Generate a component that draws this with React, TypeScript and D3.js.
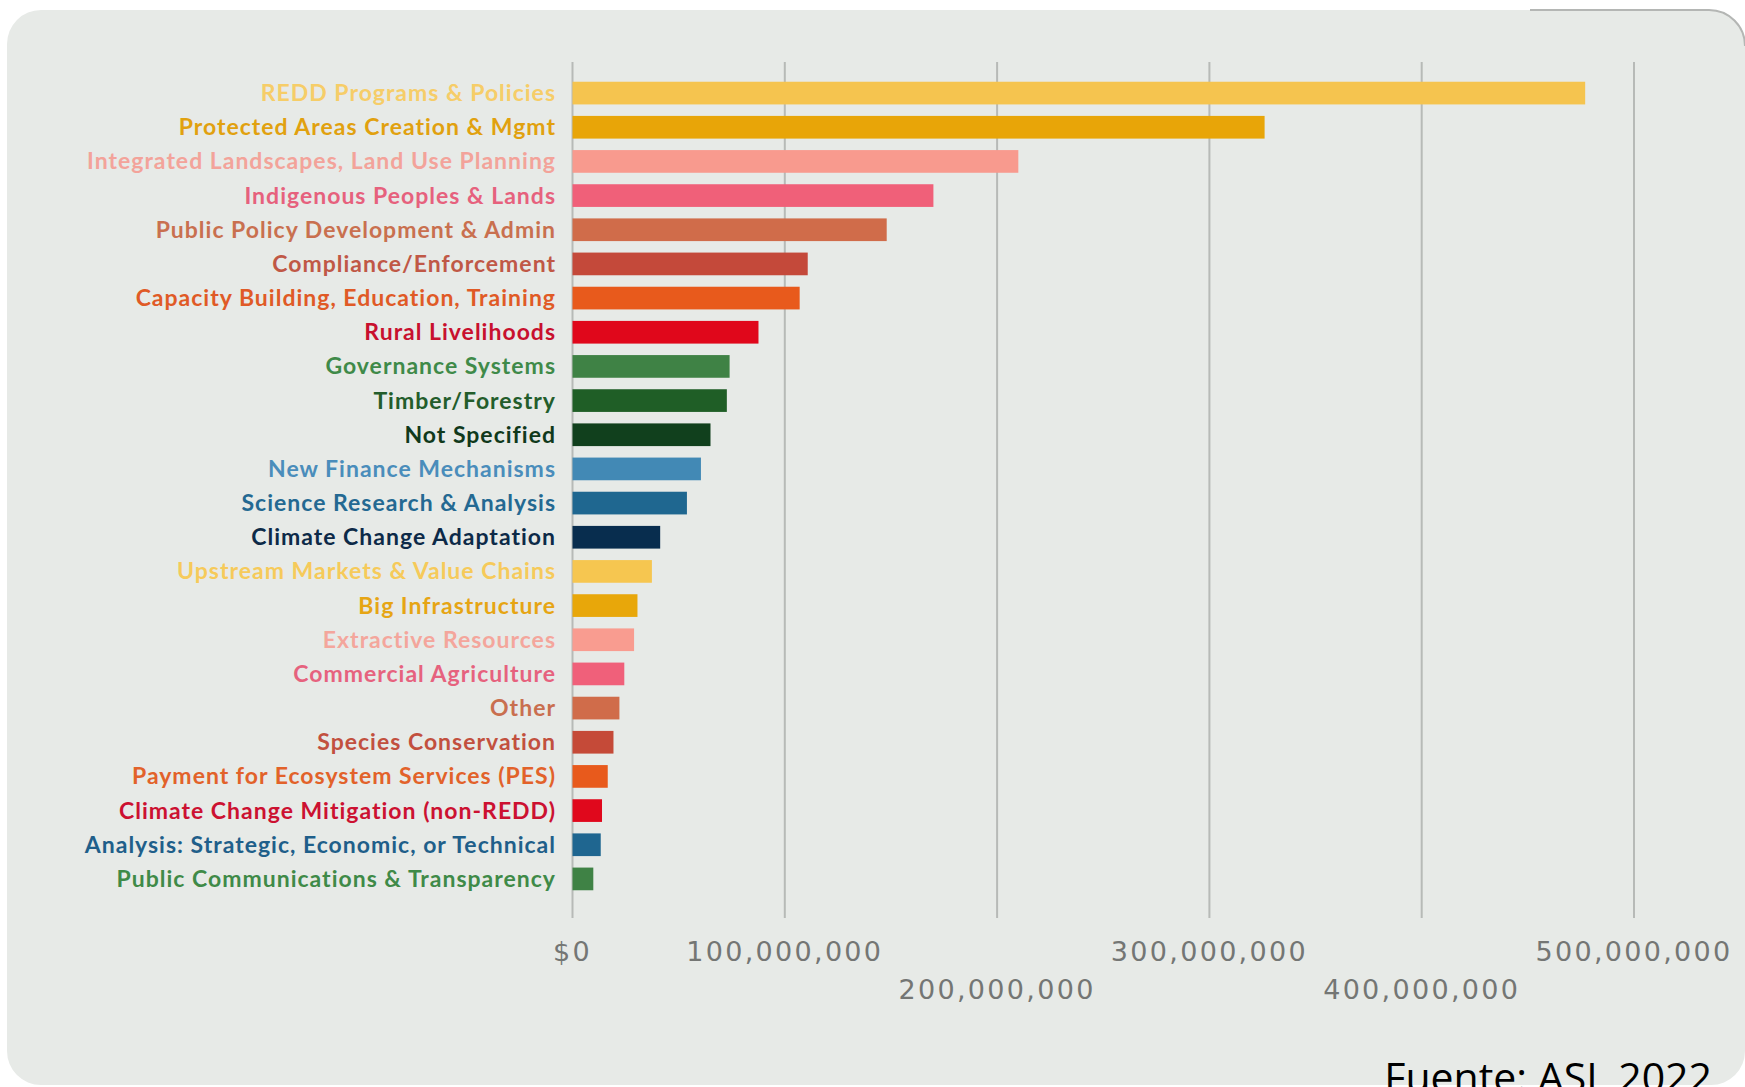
import { useRef, useEffect } from "react";
import * as d3 from "d3";

const categories = [
  "REDD Programs & Policies",
  "Protected Areas Creation & Mgmt",
  "Integrated Landscapes, Land Use Planning",
  "Indigenous Peoples & Lands",
  "Public Policy Development & Admin",
  "Compliance/Enforcement",
  "Capacity Building, Education, Training",
  "Rural Livelihoods",
  "Governance Systems",
  "Timber/Forestry",
  "Not Specified",
  "New Finance Mechanisms",
  "Science Research & Analysis",
  "Climate Change Adaptation",
  "Upstream Markets & Value Chains",
  "Big Infrastructure",
  "Extractive Resources",
  "Commercial Agriculture",
  "Other",
  "Species Conservation",
  "Payment for Ecosystem Services (PES)",
  "Climate Change Mitigation (non-REDD)",
  "Analysis: Strategic, Economic, or Technical",
  "Public Communications & Transparency",
];

// funding in USD
const funding = [
  477e6, 326e6, 210e6, 170e6, 148e6, 110.8e6, 107e6, 87.6e6, 74e6, 72.7e6,
  65e6, 60.5e6, 53.9e6, 41.3e6, 37.4e6, 30.6e6, 29e6, 24.4e6, 22.1e6, 19.3e6,
  16.6e6, 13.9e6, 13.3e6, 9.8e6,
];

const barColors = [
  "#f5c44f", "#e8a508", "#f89a8e", "#f06079", "#d06c4a", "#c4493a",
  "#e85a1c", "#e0071b", "#3f8245", "#1f5e26", "#11401d", "#4289b5",
  "#1f6790", "#082d4e", "#f6c650", "#e8a70a", "#f99c90", "#f0607a",
  "#d06c4a", "#c54a38", "#e85a1c", "#e0081c", "#1f6690", "#3f8245",
];

const labelColors = [
  "#f6cd68", "#e1a10f", "#f3a39a", "#e6617d", "#c9704f", "#c05846",
  "#e05a26", "#c8102e", "#3f8a49", "#235d2b", "#10391b", "#4a8dbb",
  "#246992", "#0d2a48", "#f6ca5a", "#e6a514", "#f4a69c", "#e6627e",
  "#c96f4f", "#c2503e", "#e2622a", "#cc1131", "#1f5f8a", "#3f8a48",
];

const tickValues = [0, 100e6, 200e6, 300e6, 400e6, 500e6];
// 0 = upper row, 1 = lower row
const tickRows = [0, 0, 1, 0, 1, 0];

export default function App() {
  const chartRef = useRef<SVGSVGElement>(null);

  useEffect(() => {
    if (!chartRef.current) return;
    const svg = d3.select(chartRef.current);
    svg.selectAll("*").remove();

    const width = 1745;
    const height = 1087;

    // panel background
    svg
      .append("rect")
      .attr("x", 0)
      .attr("y", 0)
      .attr("width", width)
      .attr("height", height)
      .attr("fill", "#ffffff");

    svg
      .append("rect")
      .attr("x", 7)
      .attr("y", 10)
      .attr("width", 1738)
      .attr("height", 1075)
      .attr("rx", 34)
      .attr("fill", "#e7eae7");

    // darker rim at the top right corner
    svg
      .append("path")
      .attr("d", "M1530,10 L1709,10 A36,36 0 0 1 1745,46")
      .attr("fill", "none")
      .attr("stroke", "#b4b6b4")
      .attr("stroke-width", 2);

    const x = d3.scaleLinear().domain([0, 500e6]).range([572.5, 1634]);

    const y = d3
      .scaleBand()
      .domain(categories)
      .range([76, 896])
      .paddingInner(0.336)
      .paddingOuter(0.168);

    // gridlines
    svg
      .append("g")
      .selectAll("line")
      .data(tickValues)
      .enter()
      .append("line")
      .attr("x1", (d) => x(d))
      .attr("x2", (d) => x(d))
      .attr("y1", 62)
      .attr("y2", 918)
      .attr("stroke", "#b7bab7")
      .attr("stroke-width", 2);

    // bars
    svg
      .append("g")
      .selectAll("rect")
      .data(categories)
      .enter()
      .append("rect")
      .attr("x", x(0))
      .attr("y", (d) => y(d)!)
      .attr("width", (_d, i) => x(funding[i]) - x(0))
      .attr("height", y.bandwidth())
      .attr("fill", (_d, i) => barColors[i]);

    // category labels
    svg
      .append("g")
      .selectAll("text")
      .data(categories)
      .enter()
      .append("text")
      .attr("x", 556)
      .attr("y", (d) => y(d)! + y.bandwidth() / 2)
      .attr("dy", "0.35em")
      .attr("text-anchor", "end")
      .attr("font-family", "Lato, sans-serif")
      .attr("font-weight", 700)
      .attr("font-size", "23px")
      .attr("letter-spacing", "1px")
      .attr("fill", (_d, i) => labelColors[i])
      .text((d) => d);

    // tick labels, staggered in two rows
    const fmt = d3.format(",");
    svg
      .append("g")
      .selectAll("text")
      .data(tickValues)
      .enter()
      .append("text")
      .attr("x", (d) => x(d))
      .attr("y", (_d, i) => (tickRows[i] === 0 ? 952 : 990))
      .attr("dy", "0.35em")
      .attr("text-anchor", "middle")
      .attr("font-family", "'DejaVu Sans', sans-serif")
      .attr("font-size", "27px")
      .attr("letter-spacing", "2.3px")
      .attr("fill", "#747674")
      .text((d) => (d === 0 ? "$0" : fmt(d)));

    // source note
    svg
      .append("text")
      .attr("x", 1712)
      .attr("y", 1092)
      .attr("text-anchor", "end")
      .attr("font-family", "'Open Sans', sans-serif")
      .attr("font-size", "41px")
      .attr("fill", "#000")
      .text("Fuente: ASL 2022");
  }, []);

  return (
    <div style={{ position: "absolute", left: 0, top: 0 }}>
      <svg ref={chartRef} width={1745} height={1087} style={{ display: "block" }} />
    </div>
  );
}
